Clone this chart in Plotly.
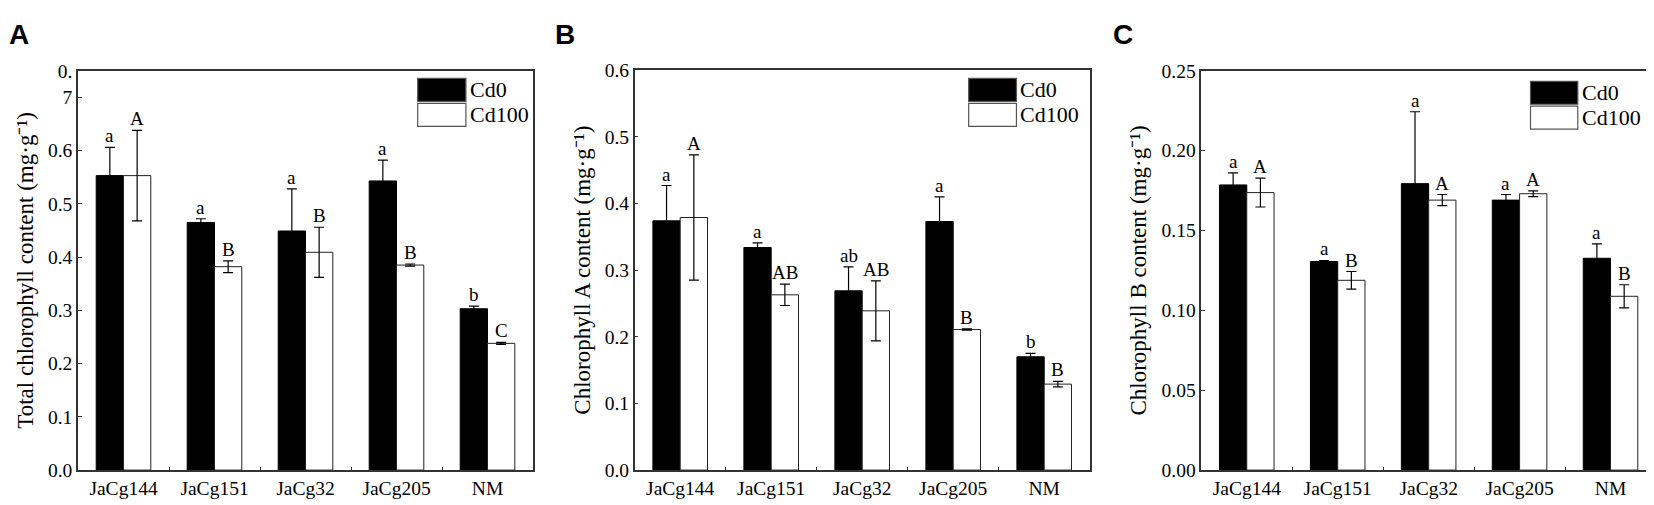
import plotly.graph_objects as go

W, H = 1654, 505

strains = ["JaCg144", "JaCg151", "JaCg32", "JaCg205", "NM"]
groups = ["Cd0", "Cd100"]

# A - total chlorophyll
total_cd0 = [0.553, 0.465, 0.449, 0.543, 0.303]
total_cd0_err = [0.053, 0.007, 0.079, 0.039, 0.005]
total_cd100 = [0.553, 0.382, 0.409, 0.385, 0.238]
total_cd100_err = [0.085, 0.011, 0.047, 0.002, 0.002]
total_let0 = ["a", "a", "a", "a", "b"]
total_let100 = ["A", "B", "B", "B", "C"]

# B - chlorophyll A
chla_cd0 = [0.374, 0.334, 0.269, 0.373, 0.170]
chla_cd0_err = [0.053, 0.007, 0.036, 0.037, 0.005]
chla_cd100 = [0.379, 0.263, 0.239, 0.211, 0.129]
chla_cd100_err = [0.094, 0.016, 0.045, 0.001, 0.004]
chla_let0 = ["a", "a", "ab", "a", "b"]
chla_let100 = ["A", "AB", "AB", "B", "B"]

# C - chlorophyll B
chlb_cd0 = [0.1785, 0.1306, 0.1793, 0.169, 0.1326]
chlb_cd0_err = [0.0075, 0.0006, 0.045, 0.0035, 0.009]
chlb_cd100 = [0.1737, 0.1188, 0.169, 0.173, 0.1088]
chlb_cd100_err = [0.009, 0.0055, 0.0035, 0.0018, 0.0072]
chlb_let0 = ["a", "a", "a", "a", "a"]
chlb_let100 = ["A", "B", "A", "A", "B"]

SERIF = "Liberation Serif"
BARGAP = 0.4
AXCOL = "#333333"

fig = go.Figure()

panels = [
    dict(name="A", x=(70.0, 525.0), top=55.0,
         data=(total_cd0, total_cd0_err, total_cd100, total_cd100_err, total_let0, total_let100),
         title="Total chlorophyll content (mg·g⁻¹)",
         yrange=[0, 0.75],
         tickvals=[0, 0.1, 0.2, 0.3, 0.4, 0.5, 0.6, 0.7, 0.75],
         ticktext=["0.0", "0.1", "0.2", "0.3", "0.4", "0.5", "0.6", "7", "0."],
         leg=(0.7466, 0.8525, 63), letter_x=0),
    dict(name="B", x=(626.7, 1081.7), top=54.5,
         data=(chla_cd0, chla_cd0_err, chla_cd100, chla_cd100_err, chla_let0, chla_let100),
         title="Chlorophyll A content (mg·g⁻¹)",
         yrange=[0, 0.6],
         tickvals=[0, 0.1, 0.2, 0.3, 0.4, 0.5, 0.6],
         ticktext=["0.0", "0.1", "0.2", "0.3", "0.4", "0.5", "0.6"],
         leg=(0.734, 0.839, 63), letter_x=546),
    dict(name="C", x=(1193.3, 1648.0), top=55.0,
         data=(chlb_cd0, chlb_cd0_err, chlb_cd100, chlb_cd100_err, chlb_let0, chlb_let100),
         title="Chlorophyll B content (mg·g⁻¹)",
         yrange=[0, 0.25],
         tickvals=[0, 0.05, 0.1, 0.15, 0.2, 0.25],
         ticktext=["0.00", "0.05", "0.10", "0.15", "0.20", "0.25"],
         leg=(0.724, 0.828, 66), letter_x=1104),
]

bottom = 471.7
annotations = []
shapes = []

for i, p in enumerate(panels):
    n = "" if i == 0 else str(i + 1)
    xa, ya = "x" + n, "y" + n
    cd0, cd0_err, cd100, cd100_err, let0, let100 = p["data"]

    fig.add_trace(go.Bar(
        x=strains, y=cd0, name=groups[0], xaxis=xa, yaxis=ya, showlegend=False,
        marker=dict(color="black", line=dict(color="black", width=1)),
        error_y=dict(type="data", array=cd0_err, color="black", thickness=1.2, width=5),
    ))
    fig.add_trace(go.Bar(
        x=strains, y=cd100, name=groups[1], xaxis=xa, yaxis=ya, showlegend=False,
        marker=dict(color="white", line=dict(color="#222222", width=1)),
        error_y=dict(type="data", array=cd100_err, color="black", thickness=1.2, width=5),
    ))

    dom_x = [p["x"][0] / W, p["x"][1] / W]
    dom_y = [(H - bottom) / H, (H - p["top"]) / H]
    fig.update_layout(**{
        "xaxis" + n: dict(domain=dom_x, anchor=ya, showline=True, linecolor=AXCOL, linewidth=1.5,
                         mirror=True, ticks="inside", tickson="boundaries", ticklen=3,
                         tickcolor=AXCOL, showgrid=False,
                         tickfont=dict(family=SERIF, size=19.5, color="black")),
        "yaxis" + n: dict(domain=dom_y, anchor=xa, range=p["yrange"], showline=True,
                         linecolor=AXCOL, linewidth=1.5, mirror=True, ticks="inside",
                         ticklen=4, tickcolor=AXCOL, showgrid=False, zeroline=False,
                         tickvals=p["tickvals"], ticktext=p["ticktext"],
                         tickfont=dict(family=SERIF, size=19.5, color="black"),
                         title=dict(text=p["title"], standoff=8,
                                    font=dict(family=SERIF, size=23, color="black"))),
    })

    # significance letters above the error bars
    axis_px = p["x"][1] - p["x"][0]
    bar_px = axis_px / len(strains) * (1 - BARGAP) / 2
    for s, v, e, t in zip(strains, cd0, cd0_err, let0):
        annotations.append(dict(x=s, y=v + e, xref=xa, yref=ya, text=t, showarrow=False,
                                xshift=-bar_px / 2, yshift=-1, yanchor="bottom",
                                font=dict(family=SERIF, size=19, color="black")))
    for s, v, e, t in zip(strains, cd100, cd100_err, let100):
        annotations.append(dict(x=s, y=v + e, xref=xa, yref=ya, text=t, showarrow=False,
                                xshift=bar_px / 2, yshift=-1, yanchor="bottom",
                                font=dict(family=SERIF, size=19, color="black")))

    # legend boxes
    dom_h = bottom - p["top"]
    lx0, lx1, ltop = p["leg"]
    for k, (fill, grp) in enumerate(zip(["black", "white"], groups)):
        top_px = ltop + 26 * k
        y_top = 1 - (top_px - p["top"]) / dom_h
        y_bot = 1 - (top_px + 24 - p["top"]) / dom_h
        shapes.append(dict(type="rect", xref=xa + " domain", yref=ya + " domain",
                           x0=lx0, x1=lx1, y0=y_bot, y1=y_top, fillcolor=fill,
                           line=dict(color="#555555", width=1.2)))
        annotations.append(dict(x=lx1 + 2 / axis_px, y=(y_top + y_bot) / 2,
                                xref=xa + " domain", yref=ya + " domain", text=grp,
                                showarrow=False, xanchor="left", yanchor="middle",
                                font=dict(family=SERIF, size=22, color="black")))

    # panel letter
    annotations.append(dict(x=p["letter_x"] / W, y=1, xref="paper", yref="paper",
                            text="<b>%s</b>" % p["name"], showarrow=False,
                            xanchor="left", yanchor="top", borderpad=0,
                            font=dict(family="Liberation Sans", size=28, color="black")))

fig.update_layout(
    width=W, height=H,
    margin=dict(l=0, r=0, t=0, b=0),
    barmode="group", bargap=BARGAP, bargroupgap=0,
    plot_bgcolor="white", paper_bgcolor="white",
    annotations=annotations, shapes=shapes,
)

fig.write_html("out.html")
